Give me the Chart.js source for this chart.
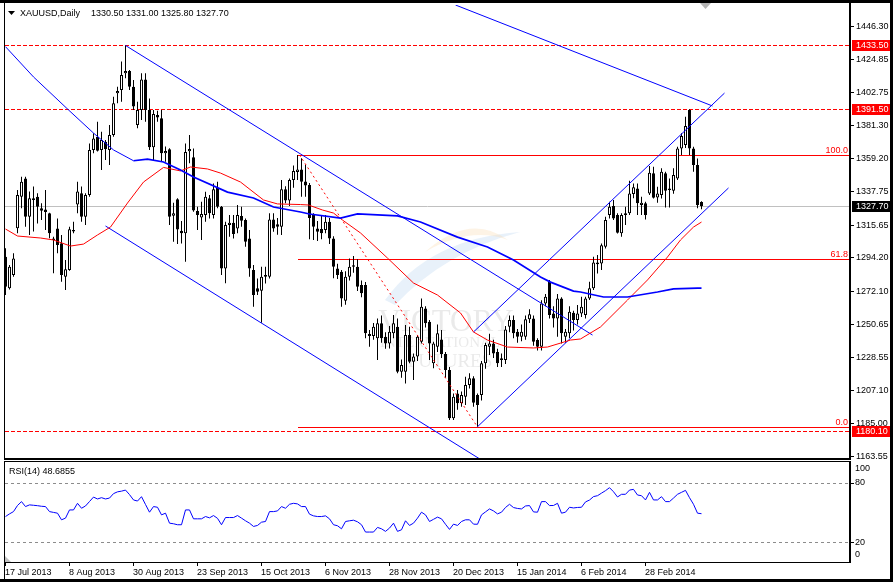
<!DOCTYPE html>
<html>
<head>
<meta charset="utf-8">
<title>XAUUSD Daily</title>
<script src="https://cdn.jsdelivr.net/npm/chart.js@4.4.1/dist/chart.umd.min.js"></script>
<style>
html,body{margin:0;padding:0;background:#ffffff;}
#wrap{position:relative;width:893px;height:582px;overflow:hidden;background:#ffffff;}
canvas{position:absolute;left:0;display:block;}
#main{top:0;}
#rsi{top:461px;}
</style>
</head>
<body>
<div id="wrap">
<canvas id="main" width="893" height="461" style="width:893px;height:461px"></canvas>
<canvas id="rsi" width="893" height="121" style="width:893px;height:121px"></canvas>
</div>
<script>
// ---------- DATA ----------
const symbolTitle = 'XAUUSD,Daily';
const dateTicks  = [0,16,32,48,64,80,96,112,128,144,160];
const dateLabels = ['17 Jul 2013','8 Aug 2013','30 Aug 2013','23 Sep 2013','15 Oct 2013','6 Nov 2013','28 Nov 2013','20 Dec 2013','15 Jan 2014','6 Feb 2014','28 Feb 2014'];
const priceTicks = [1446.30,1424.85,1402.75,1381.30,1359.20,1337.75,1315.65,1294.20,1272.10,1250.65,1228.55,1207.10,1185.00,1163.55];
const rsiAxisTicks = [100,80,20,0];
const rsiLevels = [80,20];

const opens = [
1294.6,1273.8,1282.6,1313.3,1334.1,1346.1,1320.9,1333.0,1334.1,1326.4,
1325.7,1323.1,1306.5,1313.2,1303.4,1281.5,1285.8,1312.2,1329.0,1336.3,
1320.9,1335.2,1364.8,1373.5,1364.8,1370.2,1364.8,1374.6,1402.0,1404.2,
1415.2,1416.7,1406.4,1381.2,1391.1,1411.2,1391.1,1366.5,1387.8,1385.6,
1362.6,1365.2,1321.6,1332.3,1311.7,1310.0,1364.0,1360.0,1324.6,1320.4,
1322.0,1333.0,1322.0,1340.0,1327.5,1286.9,1315.4,1317.0,1313.2,1321.3,
1318.7,1306.6,1285.8,1273.8,1272.2,1281.4,1281.4,1319.1,1316.0,1314.3,
1339.0,1331.5,1345.0,1350.3,1352.0,1344.0,1341.7,1322.0,1313.2,1312.8,
1312.1,1317.6,1306.6,1286.9,1284.7,1265.7,1281.4,1288.0,1288.0,1276.0,
1276.0,1243.7,1242.4,1240.9,1250.8,1242.0,1237.6,1244.2,1248.6,1219.0,
1219.0,1243.1,1225.6,1228.9,1238.7,1260.6,1251.9,1224.5,1235.4,1240.2,
1230.6,1220.1,1188.3,1204.7,1198.2,1202.5,1210.2,1214.6,1203.6,1203.6,
1224.5,1235.4,1237.6,1232.0,1226.7,1226.7,1248.6,1253.0,1245.3,1242.0,
1242.0,1253.4,1254.0,1239.8,1235.4,1263.9,1278.2,1257.3,1254.0,1267.2,
1242.0,1244.2,1257.7,1253.0,1257.3,1256.2,1267.2,1273.8,1289.7,1290.2,
1301.1,1322.0,1327.9,1322.0,1310.0,1322.0,1323.1,1335.8,1339.5,1328.6,
1329.7,1336.2,1349.4,1333.6,1335.1,1349.4,1339.5,1338.0,1346.1,1365.8,
1368.0,1391.0,1365.8,1354.9,1330.5];
const highs = [
1300.1,1289.1,1296.8,1338.5,1347.2,1347.2,1337.4,1340.7,1336.3,1329.7,
1338.5,1323.5,1307.8,1319.8,1308.9,1292.4,1314.3,1317.6,1343.9,1340.7,
1336.3,1369.1,1375.7,1383.4,1376.8,1371.3,1381.2,1399.8,1406.4,1422.9,
1433.5,1417.4,1410.8,1396.5,1415.2,1415.2,1398.7,1391.1,1390.6,1391.1,
1367.0,1365.9,1330.1,1333.0,1318.0,1369.0,1374.6,1365.8,1327.5,1330.8,
1337.3,1335.2,1342.8,1343.9,1327.9,1317.6,1322.0,1322.0,1328.6,1327.5,
1319.8,1312.1,1289.1,1280.3,1288.0,1288.0,1323.1,1323.1,1320.0,1345.0,
1341.0,1346.0,1354.5,1361.5,1359.3,1355.0,1343.0,1323.1,1318.0,1322.0,
1322.0,1320.0,1308.0,1290.0,1285.8,1285.0,1293.5,1295.0,1293.0,1279.0,
1278.0,1246.4,1251.0,1254.0,1256.0,1245.0,1249.0,1256.2,1254.0,1227.0,
1249.7,1248.6,1231.0,1243.1,1267.2,1262.0,1253.0,1238.7,1250.0,1246.4,
1232.0,1222.0,1204.7,1207.0,1206.0,1215.7,1217.9,1216.0,1204.7,1226.0,
1238.0,1244.0,1240.0,1234.0,1231.0,1249.0,1256.0,1256.0,1247.0,1250.0,
1256.0,1260.0,1256.0,1241.0,1266.0,1270.0,1279.3,1262.0,1270.0,1268.0,
1247.0,1262.0,1259.0,1262.8,1268.3,1268.3,1278.1,1294.6,1295.7,1303.3,
1320.9,1330.8,1331.9,1323.1,1323.1,1327.5,1344.6,1342.8,1342.8,1334.0,
1330.8,1354.2,1353.8,1340.6,1352.7,1350.5,1346.0,1352.7,1366.9,1375.7,
1386.6,1391.5,1366.9,1359.2,1331.0];
const lows = [
1269.4,1273.1,1281.5,1310.0,1326.4,1314.3,1308.9,1311.1,1316.5,1318.7,
1312.2,1306.7,1283.7,1296.8,1278.2,1272.7,1285.4,1310.0,1323.1,1317.6,
1315.4,1334.1,1362.6,1363.7,1351.6,1358.2,1354.9,1373.5,1395.5,1396.5,
1411.9,1404.2,1391.1,1379.0,1384.5,1383.4,1364.8,1358.2,1383.4,1357.1,
1357.1,1315.4,1304.5,1303.0,1303.3,1291.3,1356.0,1324.2,1312.2,1305.6,
1317.6,1319.8,1319.8,1326.4,1282.5,1277.1,1307.8,1306.6,1310.0,1314.3,
1301.2,1281.4,1261.7,1269.4,1251.2,1277.0,1280.3,1311.0,1309.0,1308.8,
1329.7,1328.0,1340.0,1345.0,1334.0,1334.0,1306.0,1305.6,1305.0,1306.0,
1310.0,1303.0,1280.4,1280.0,1261.7,1263.0,1279.0,1284.0,1272.0,1268.0,
1240.9,1235.4,1240.0,1226.7,1238.0,1234.0,1234.3,1241.0,1217.9,1215.0,
1211.3,1224.5,1213.5,1226.0,1237.6,1248.0,1226.7,1221.2,1232.0,1228.0,
1215.0,1187.2,1187.2,1194.0,1196.0,1197.1,1208.0,1196.0,1182.8,1200.0,
1221.0,1230.0,1228.0,1222.0,1222.0,1224.0,1245.0,1241.0,1238.0,1239.0,
1240.0,1251.0,1236.0,1233.0,1233.0,1262.0,1254.0,1248.0,1242.0,1237.6,
1238.0,1241.0,1246.0,1250.0,1255.0,1254.0,1266.1,1272.7,1283.6,1285.8,
1300.0,1319.8,1318.7,1309.9,1307.7,1315.4,1322.0,1333.0,1322.0,1322.0,
1319.1,1335.1,1332.9,1330.0,1332.9,1327.0,1327.0,1336.0,1345.0,1361.4,
1366.0,1361.4,1350.5,1326.4,1325.8];
const closes = [
1274.9,1288.0,1293.5,1335.2,1343.9,1320.9,1333.0,1331.9,1327.5,1324.9,
1324.0,1310.0,1305.6,1302.3,1282.6,1286.3,1312.6,1311.2,1337.4,1320.9,
1335.2,1364.8,1372.4,1364.3,1371.3,1365.2,1374.6,1395.5,1403.6,1414.1,
1416.7,1406.4,1393.3,1391.1,1411.2,1391.1,1366.5,1388.4,1386.2,1362.6,
1364.1,1320.9,1323.1,1312.5,1310.0,1363.5,1365.5,1325.0,1322.0,1322.6,
1334.1,1323.1,1338.9,1327.5,1286.9,1315.4,1317.0,1309.5,1322.0,1318.3,
1304.5,1286.9,1269.4,1271.6,1281.4,1282.5,1319.1,1313.2,1314.3,1338.9,
1331.5,1345.0,1351.0,1352.0,1343.9,1341.5,1320.0,1314.3,1311.0,1310.0,
1317.6,1306.6,1288.0,1282.5,1267.2,1281.4,1288.0,1289.0,1274.9,1270.5,
1244.2,1242.4,1248.6,1250.8,1240.9,1237.6,1245.3,1250.8,1219.0,1223.4,
1243.1,1225.6,1228.9,1242.0,1261.7,1250.8,1237.6,1237.6,1244.2,1230.6,
1220.1,1188.3,1202.5,1198.2,1203.6,1210.2,1214.6,1198.6,1197.1,1224.5,
1236.5,1237.6,1231.0,1224.5,1227.8,1246.8,1253.0,1244.2,1242.0,1245.3,
1253.4,1256.7,1238.7,1235.4,1263.9,1268.3,1256.2,1254.0,1267.2,1244.2,
1245.3,1258.4,1253.0,1257.3,1261.7,1267.2,1273.8,1290.8,1290.8,1302.2,
1318.7,1327.5,1319.8,1310.4,1322.0,1323.1,1336.2,1340.2,1329.7,1330.1,
1322.0,1349.8,1333.3,1336.2,1350.5,1338.0,1338.5,1348.3,1365.8,1373.9,
1380.5,1365.8,1354.9,1328.6,1327.7];

const rsi = [
45.8,48.5,50.8,57.0,60.9,55.9,57.6,57.2,56.8,56.2,
55.9,50.8,50.0,49.2,42.5,44.2,52.5,52.5,59.2,54.2,
56.5,61.0,65.5,63.6,64.9,63.6,64.5,69.0,70.8,71.5,
72.6,68.0,62.6,61.5,65.9,58.0,50.2,55.9,55.2,47.5,
49.2,39.1,38.5,37.5,37.5,52.5,52.5,43.5,43.5,43.5,
45.8,44.5,46.8,44.0,37.5,44.8,44.8,44.8,46.8,44.2,
41.5,39.1,35.8,36.8,40.1,40.8,50.8,50.8,51.5,55.9,
54.2,58.2,59.2,58.6,55.9,55.9,48.2,46.5,45.8,45.8,
46.5,43.5,37.5,36.5,33.4,40.8,41.5,42.1,40.5,37.5,
30.1,30.1,30.1,34.8,33.4,30.8,34.1,39.1,30.8,32.4,
41.5,36.8,39.1,44.2,50.2,47.5,40.8,43.0,45.2,43.5,
38.0,32.8,38.1,36.8,40.8,42.5,42.5,38.1,38.0,47.5,
50.5,53.5,51.5,48.5,50.2,55.0,58.2,54.9,54.0,53.5,
56.5,56.9,50.5,50.2,60.9,60.9,56.9,57.0,59.2,49.2,
50.2,55.2,54.5,55.0,55.2,60.6,62.5,66.0,66.9,69.5,
72.0,75.0,70.9,65.6,68.3,68.3,72.6,73.3,67.6,66.9,
62.6,70.3,62.6,62.6,65.9,60.9,60.9,64.5,68.3,70.3,
72.3,64.9,58.2,49.2,48.6855];

// moving averages: [bar index, price]
const blueMA = [[0,1432.7],[7,1412.8],[15.75,1391.1],[22,1375.9],[27,1364.8],[32,1357.7],
[35.5,1358.8],[39.5,1356.9],[43.75,1351.6],[47,1347.0],[55.5,1337.1],[62,1333.2],[67,1327.3],
[73.75,1324.0],[76,1322.7],[83.75,1320.0],[88,1322.7],[98,1321.4],[103.75,1317.4],[113,1307.5],
[120.5,1301.0],[127,1292.4],[133.75,1281.2],[136.25,1277.9],[142,1272.0],[143.75,1271.4],
[149.5,1268.1],[155.5,1268.1],[163,1271.4],[167,1273.4],[173,1274.0],[174,1274.0]];
const blueThinUntil = 32;
const redMA = [[0,1312.8],[3,1308.2],[8.75,1306.9],[12,1305.6],[16.25,1301.6],[19.5,1302.9],
[23,1308.9],[26.25,1314.1],[30.5,1329.9],[34.5,1343.7],[39.5,1353.3],[43.75,1351.0],[46.25,1353.6],
[50.5,1352.3],[53.75,1349.6],[58.75,1343.7],[64.5,1331.9],[68,1329.3],[73.75,1328.9],[75.75,1328.6],
[79.25,1325.3],[82,1323.3],[84.25,1318.7],[88.75,1310.2],[95.5,1293.7],[102,1277.3],[108,1269.4],
[113.75,1257.6],[117,1245.1],[120.5,1239.8],[125.5,1235.2],[132,1234.6],[135.5,1235.2],[141.25,1239.8],
[143.75,1240.5],[148.75,1248.4],[155.5,1266.1],[160.5,1279.3],[165.5,1294.4],[168.75,1305.6],
[172,1314.1],[174,1317.4]];

// trend lines: [bar, price] anchors
const downUpper = [[30,1433.5],[146.75,1243.1]];
const downLower = [[25,1314.8],[119,1160.9]];
const topLine   = [[112.5,1460.1],[176.75,1393.7]];
const upLower   = [[118,1182.8],[180.75,1339.8]];
const upUpper   = [[117,1245.1],[179.75,1402.2]];
const fibAnchor = [[73.5,1361.5],[118,1182.6]];
const fibLevels = [100,61.8,0];
const fibStartBar = 73;
const levelLines = [1433.5,1391.5,1180.1];

// ---------- BUILD ----------
const FONT = '9px "Liberation Sans", Arial, sans-serif';
const lastClose = closes[closes.length-1];
const fibHigh = fibAnchor[0][1], fibLow = fibAnchor[1][1];
const fibPrices = fibLevels.map(l => fibLow + (fibHigh - fibLow) * l / 100);
const idx = opens.map((_, i) => i);
const X_MIN = -0.125, X_MAX = 211.125;

function lineDs(pts, color, width, dash, order) {
  return {type:'line', data: pts.map(p => ({x:p[0], y:p[1]})), borderColor: color,
    borderWidth: width, borderDash: dash || [], pointRadius: 0, tension: 0, fill: false,
    order: order === undefined ? 0 : order};
}

const mainDecor = {
  id: 'mainDecor',
  beforeDatasetsDraw(chart) {
    const {ctx, chartArea: a, scales: {x, y}} = chart;
    ctx.save();
    // watermark
    ctx.fillStyle = 'rgba(190,215,240,0.35)';
    ctx.beginPath(); ctx.moveTo(385,300); ctx.quadraticCurveTo(430,238,520,232);
    ctx.quadraticCurveTo(445,252,395,305); ctx.closePath(); ctx.fill();
    ctx.fillStyle = 'rgba(250,222,180,0.35)';
    ctx.beginPath(); ctx.moveTo(425,252); ctx.quadraticCurveTo(470,212,508,240);
    ctx.quadraticCurveTo(470,226,425,252); ctx.closePath(); ctx.fill();
    ctx.fillStyle = 'rgba(150,150,150,0.2)';
    ctx.textAlign = 'center'; ctx.textBaseline = 'alphabetic';
    ctx.font = '31px "Liberation Serif", serif'; ctx.fillText('VICTORY', 446, 331);
    ctx.font = '15px "Liberation Serif", serif'; ctx.fillText('INTERNATIONAL', 440, 347);
    ctx.font = '19px "Liberation Serif", serif'; ctx.fillText('FUTURES', 450, 367);
    // horizontal lines
    const hline = (v, color, dash, x0) => {
      const py = Math.round(y.getPixelForValue(v)) + 0.5;
      ctx.strokeStyle = color; ctx.lineWidth = 1; ctx.setLineDash(dash);
      ctx.beginPath(); ctx.moveTo(x0, py); ctx.lineTo(a.right, py); ctx.stroke();
    };
    hline(lastClose, '#c0c0c0', [], a.left);
    levelLines.forEach(v => hline(v, '#ff0000', [4,2], a.left));
    fibPrices.forEach(v => hline(v, '#ff0000', [], Math.round(x.getPixelForValue(fibStartBar))));
    ctx.restore();
  },
  afterDraw(chart) {
    const {ctx, chartArea: a, scales: {y}} = chart;
    ctx.save();
    ctx.font = FONT;
    // fib labels
    ctx.fillStyle = '#ff0000'; ctx.textAlign = 'right'; ctx.textBaseline = 'alphabetic';
    fibLevels.forEach((lv, k) => {
      const py = Math.round(y.getPixelForValue(fibPrices[k]));
      ctx.fillText(lv.toFixed(1), a.right - 2, py - 2);
    });
    // price axis
    ctx.textAlign = 'left'; ctx.textBaseline = 'middle'; ctx.fillStyle = '#000';
    priceTicks.forEach(v => {
      const py = Math.round(y.getPixelForValue(v));
      ctx.fillRect(a.right + 1, py, 3, 1);
      ctx.fillText(v.toFixed(2), a.right + 6, py + 0.5);
    });
    const boxes = levelLines.map(v => ({v, bg:'#ff0000'})).concat([{v:lastClose, bg:'#000000'}]);
    boxes.forEach(b => {
      const py = Math.round(y.getPixelForValue(b.v));
      ctx.fillStyle = b.bg; ctx.fillRect(a.right + 2, py - 5, 39, 11);
      ctx.fillStyle = '#ffffff'; ctx.fillText(b.v.toFixed(2), a.right + 6, py + 0.5);
    });
    // header
    ctx.fillStyle = '#000';
    ctx.beginPath(); ctx.moveTo(8,11); ctx.lineTo(15,11); ctx.lineTo(11.5,15); ctx.closePath(); ctx.fill();
    ctx.fillText(symbolTitle, 20, 13.5);
    ctx.fillText([opens, highs, lows, closes].map(arr => arr[arr.length-1].toFixed(2)).join(' '), 91, 13.5);
    // shift marker
    ctx.fillStyle = '#b4b4b4';
    ctx.beginPath(); ctx.moveTo(700,3); ctx.lineTo(711,3); ctx.lineTo(705.5,9); ctx.closePath(); ctx.fill();
    // frame
    ctx.fillStyle = '#000';
    ctx.fillRect(0,0,893,3);
    ctx.fillRect(4,0,1,460);
    ctx.fillRect(849,0,2,460);
    ctx.fillRect(4,458,847,2);
    ctx.fillRect(890,0,3,461);
    ctx.restore();
  }
};

const rsiDecor = {
  id: 'rsiDecor',
  beforeDatasetsDraw(chart) {
    const {ctx, chartArea: a, scales: {y}} = chart;
    ctx.save();
    ctx.strokeStyle = '#8c8c8c'; ctx.lineWidth = 1; ctx.setLineDash([3,3]);
    rsiLevels.forEach(v => {
      const py = Math.round(y.getPixelForValue(v)) + 0.5;
      ctx.beginPath(); ctx.moveTo(a.left, py); ctx.lineTo(a.right, py); ctx.stroke();
    });
    ctx.restore();
  },
  afterDraw(chart) {
    const {ctx, chartArea: a, scales: {x, y}} = chart;
    ctx.save();
    ctx.font = FONT; ctx.fillStyle = '#000'; ctx.textBaseline = 'middle'; ctx.textAlign = 'left';
    ctx.fillText('RSI(14) ' + rsi[rsi.length-1].toFixed(4), 9, 10.5);
    rsiAxisTicks.forEach(v => {
      const py = y.getPixelForValue(v);
      const ly = Math.min(Math.max(py, a.top + 6.5), a.bottom - 7);
      if (v > 0 && v < 100) ctx.fillRect(a.right + 1, Math.round(py), 3, 1);
      ctx.fillText(String(v), a.right + 5, ly);
    });
    dateTicks.forEach((b, k) => {
      const px = Math.round(x.getPixelForValue(b) - 0.5);
      ctx.fillRect(px, a.bottom, 1, 4);
      ctx.fillText(dateLabels[k], px, a.bottom + 10.5);
    });
    ctx.fillStyle = '#c0c0c0';
    ctx.beginPath(); ctx.moveTo(a.left, a.bottom - 6); ctx.lineTo(a.left, a.bottom); ctx.lineTo(a.left + 6, a.bottom); ctx.closePath(); ctx.fill();
    ctx.fillStyle = '#000';
    ctx.fillRect(4,0,847,1);
    ctx.fillRect(4,a.bottom,847,1);
    ctx.fillRect(4,0,1,chart.height);
    ctx.fillRect(849,0,2,a.bottom + 1);
    ctx.fillRect(0,chart.height - 3,893,3);
    ctx.fillRect(890,0,3,chart.height);
    ctx.restore();
  }
};

const baseOpts = {
  responsive: false, animation: false, devicePixelRatio: 1, events: [],
  plugins: {legend: {display: false}, tooltip: {enabled: false}}
};

new Chart(document.getElementById('main'), {
  type: 'bar',
  data: {
    datasets: [
      lineDs(blueMA.filter(p => p[0] <= blueThinUntil), '#0000ff', 1),
      lineDs(blueMA.filter(p => p[0] >= blueThinUntil), '#0000ff', 1.7),
      lineDs(redMA, '#ff0000', 1),
      lineDs(downUpper, '#0000ff', 1),
      lineDs(downLower, '#0000ff', 1),
      lineDs(topLine, '#0000ff', 1),
      lineDs(upLower, '#0000ff', 1),
      lineDs(upUpper, '#0000ff', 1),
      lineDs(fibAnchor, '#ff0000', 1, [2,3]),
      {type:'bar', data: idx.map(i => ({x:i, y:[opens[i], closes[i]]})),
        backgroundColor: idx.map(i => closes[i] >= opens[i] ? '#ffffff' : '#000000'),
        borderColor: '#000000', borderWidth: 1, borderSkipped: false, barThickness: 3,
        grouped: false, inflateAmount: 0, order: 5},
      {type:'bar', data: idx.map(i => ({x:i, y:[lows[i], highs[i]]})),
        backgroundColor: '#000000', borderWidth: 0, barThickness: 1,
        grouped: false, inflateAmount: 0, order: 6}
    ]
  },
  options: Object.assign({}, baseOpts, {
    layout: {padding: {left:5, right:43, top:5, bottom:3}},
    scales: {
      x: {type:'linear', min:X_MIN, max:X_MAX, offset:false, display:false},
      y: {type:'linear', min:1162.24, max:1460.11, beginAtZero:false, display:false}
    }
  }),
  plugins: [mainDecor]
});

new Chart(document.getElementById('rsi'), {
  type: 'line',
  data: {datasets: [{data: rsi.map((v, i) => ({x:i, y:v})), borderColor:'#0000ff', borderWidth:1, pointRadius:0, tension:0, fill:false}]},
  options: Object.assign({}, baseOpts, {
    layout: {padding: {left:5, right:43, top:1, bottom:20}},
    scales: {
      x: {type:'linear', min:X_MIN, max:X_MAX, offset:false, display:false},
      y: {type:'linear', min:-0.2, max:101, display:false}
    }
  }),
  plugins: [rsiDecor]
});
</script>
</body>
</html>
